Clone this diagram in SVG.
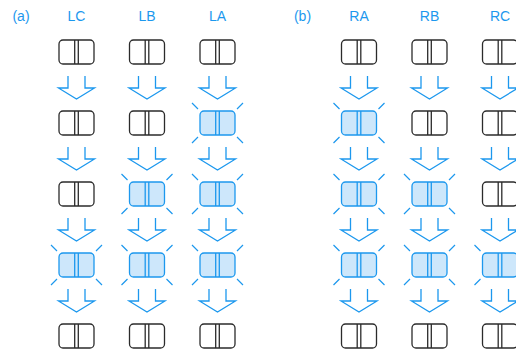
<svg xmlns="http://www.w3.org/2000/svg" xmlns:xlink="http://www.w3.org/1999/xlink" width="516" height="352" viewBox="0 0 516 352">
<style>
.lbl{font-family:"Liberation Sans",Arial,sans-serif;font-size:14px;fill:#1c98ee;text-anchor:middle}
.bx{fill:#fff;stroke:#2b2b2b;stroke-width:1.3}
.hx{fill:#cde7fb;stroke:#1c98ee;stroke-width:1.3}
.ray{stroke:#1c98ee;stroke-width:1.2;fill:none}
.arr{fill:none;stroke:#1c98ee;stroke-width:1.3;stroke-linejoin:miter}
</style>
<defs>
<g id="box">
<rect class="bx" x="-17.5" y="0" width="35" height="24" rx="4"/>
<line class="bx" x1="-1.8" y1="0" x2="-1.8" y2="24"/>
<line class="bx" x1="1.8" y1="0" x2="1.8" y2="24"/>
</g>
<g id="hbox">
<rect class="hx" x="-17.5" y="0" width="35" height="24" rx="4"/>
<line class="hx" x1="-1.8" y1="0" x2="-1.8" y2="24"/>
<line class="hx" x1="1.8" y1="0" x2="1.8" y2="24"/>
<path class="ray" d="M-19.5,-2 L-25.5,-8 M19.5,-2 L25.5,-8 M-19.5,26 L-25.5,32 M19.5,26 L25.5,32"/>
</g>
<path id="arrow" class="arr" d="M-8.5,0 V12 H-18 L0,23 L18,12 H8.5 V0"/>
</defs>
<text class="lbl" x="21" y="21">(a)</text>
<text class="lbl" x="76.5" y="21">LC</text>
<text class="lbl" x="147" y="21">LB</text>
<text class="lbl" x="217.5" y="21">LA</text>
<text class="lbl" x="302.5" y="21">(b)</text>
<text class="lbl" x="359" y="21">RA</text>
<text class="lbl" x="429.5" y="21">RB</text>
<text class="lbl" x="500" y="21">RC</text>
<g id="connectors">
<use xlink:href="#arrow" x="76.5" y="76"/><use xlink:href="#arrow" x="76.5" y="147"/><use xlink:href="#arrow" x="76.5" y="218"/><use xlink:href="#arrow" x="76.5" y="289"/>
<use xlink:href="#arrow" x="147" y="76"/><use xlink:href="#arrow" x="147" y="147"/><use xlink:href="#arrow" x="147" y="218"/><use xlink:href="#arrow" x="147" y="289"/>
<use xlink:href="#arrow" x="217.5" y="76"/><use xlink:href="#arrow" x="217.5" y="147"/><use xlink:href="#arrow" x="217.5" y="218"/><use xlink:href="#arrow" x="217.5" y="289"/>
<use xlink:href="#arrow" x="359" y="76"/><use xlink:href="#arrow" x="359" y="147"/><use xlink:href="#arrow" x="359" y="218"/><use xlink:href="#arrow" x="359" y="289"/>
<use xlink:href="#arrow" x="429.5" y="76"/><use xlink:href="#arrow" x="429.5" y="147"/><use xlink:href="#arrow" x="429.5" y="218"/><use xlink:href="#arrow" x="429.5" y="289"/>
<use xlink:href="#arrow" x="500" y="76"/><use xlink:href="#arrow" x="500" y="147"/><use xlink:href="#arrow" x="500" y="218"/><use xlink:href="#arrow" x="500" y="289"/>
</g>
<g id="LC1"><use xlink:href="#box" x="76.5" y="40"/></g>
<g id="LC2"><use xlink:href="#box" x="76.5" y="111"/></g>
<g id="LC3"><use xlink:href="#box" x="76.5" y="182"/></g>
<g id="LC4"><use xlink:href="#hbox" x="76.5" y="253"/></g>
<g id="LC5"><use xlink:href="#box" x="76.5" y="324"/></g>
<g id="LB1"><use xlink:href="#box" x="147" y="40"/></g>
<g id="LB2"><use xlink:href="#box" x="147" y="111"/></g>
<g id="LB3"><use xlink:href="#hbox" x="147" y="182"/></g>
<g id="LB4"><use xlink:href="#hbox" x="147" y="253"/></g>
<g id="LB5"><use xlink:href="#box" x="147" y="324"/></g>
<g id="LA1"><use xlink:href="#box" x="217.5" y="40"/></g>
<g id="LA2"><use xlink:href="#hbox" x="217.5" y="111"/></g>
<g id="LA3"><use xlink:href="#hbox" x="217.5" y="182"/></g>
<g id="LA4"><use xlink:href="#hbox" x="217.5" y="253"/></g>
<g id="LA5"><use xlink:href="#box" x="217.5" y="324"/></g>
<g id="RA1"><use xlink:href="#box" x="359" y="40"/></g>
<g id="RA2"><use xlink:href="#hbox" x="359" y="111"/></g>
<g id="RA3"><use xlink:href="#hbox" x="359" y="182"/></g>
<g id="RA4"><use xlink:href="#hbox" x="359" y="253"/></g>
<g id="RA5"><use xlink:href="#box" x="359" y="324"/></g>
<g id="RB1"><use xlink:href="#box" x="429.5" y="40"/></g>
<g id="RB2"><use xlink:href="#box" x="429.5" y="111"/></g>
<g id="RB3"><use xlink:href="#hbox" x="429.5" y="182"/></g>
<g id="RB4"><use xlink:href="#hbox" x="429.5" y="253"/></g>
<g id="RB5"><use xlink:href="#box" x="429.5" y="324"/></g>
<g id="RC1"><use xlink:href="#box" x="500" y="40"/></g>
<g id="RC2"><use xlink:href="#box" x="500" y="111"/></g>
<g id="RC3"><use xlink:href="#box" x="500" y="182"/></g>
<g id="RC4"><use xlink:href="#hbox" x="500" y="253"/></g>
<g id="RC5"><use xlink:href="#box" x="500" y="324"/></g>
</svg>
